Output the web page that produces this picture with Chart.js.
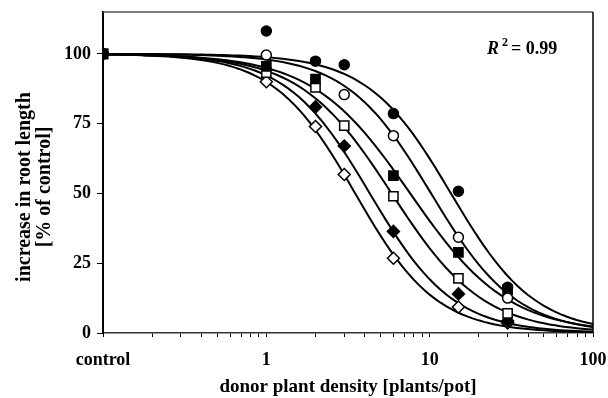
<!DOCTYPE html>
<html>
<head>
<meta charset="utf-8">
<script src="https://cdn.jsdelivr.net/npm/chart.js@4.4.1/dist/chart.umd.min.js"></script>
<style>
  body { margin: 0; background: #fff; }
  canvas { display: block; }
</style>
</head>
<body>
<canvas id="rootChart" width="608" height="398"></canvas>
<script>
// donor plant densities (plants/pot); 0.1 stands in for the control
var densities = [0.1, 1, 2, 3, 6, 15, 30];

// measured root length increase, % of control, one array per series
// (null where a point sits hidden under another marker)
var filledCircle = [100, 108.2, 97.4, 96.1, 78.6, 50.8, 16.4];
var openCircle = [100, 99.6, null, 85.4, 70.7, 34.3, 12.5];
var filledSquare = [100, 95.5, 91.0, null, 56.4, 28.9, 15.5];
var openSquare = [100, 93.3, 88.0, 74.3, 49.0, 19.6, 7.0];
var filledDiamond = [100, null, 81.0, 67.0, 36.4, 14.0, 4.3];
var openDiamond = [100, 90.0, 74.0, 56.8, 26.8, 9.3, 3.6];

// log-logistic fit for each series: y = 100 / (1 + (x / ec50)^slope)
var ec50 = [13.5, 10.2, 7.6, 5.85, 4.3, 3.5];
var slope = [1.7, 1.67, 1.45, 1.55, 1.7, 1.75];

var yTicks = [0, 25, 50, 75, 100];
var xTicks = [0.1, 0.2, 0.3, 0.4, 0.5, 0.6, 0.7, 0.8, 0.9,
              1, 2, 3, 4, 5, 6, 7, 8, 9,
              10, 20, 30, 40, 50, 60, 70, 80, 90, 100];
var xLabels = { 0.1: 'control', 1: '1', 10: '10', 100: '100' };
var yTitle = ['increase in root length', '[% of control]'];

var series = [
    { values: filledCircle, shape: 'circle', fill: '#000', r: 5 },
    { values: openCircle, shape: 'circle', fill: '#fff', r: 5 },
    { values: filledSquare, shape: 'rect', fill: '#000', r: 6.5 },
    { values: openSquare, shape: 'rect', fill: '#fff', r: 6.5 },
    { values: filledDiamond, shape: 'rectRot', fill: '#000', r: 6 },
    { values: openDiamond, shape: 'rectRot', fill: '#fff', r: 6 }
];

function fitCurve(i) {
    var pts = [];
    for (var k = 0; k <= 90; k++) {
        var x = Math.pow(10, -1 + k * 3 / 90);
        pts.push({ x: x, y: 100 / (1 + Math.pow(x / ec50[i], slope[i])) });
    }
    return pts;
}

var datasets = [];
series.forEach(function(s, i) {
    datasets.push({
        type: 'line',
        data: fitCurve(i),
        borderColor: '#000',
        borderWidth: 2,
        pointRadius: 0,
        fill: false,
        order: 2
    });
});
series.forEach(function(s) {
    datasets.push({
        type: 'scatter',
        data: s.values.map(function(v, j) { return { x: densities[j], y: v }; }),
        pointStyle: s.shape,
        pointRadius: s.r,
        pointBackgroundColor: s.fill,
        pointBorderColor: '#000',
        pointBorderWidth: 1.5,
        order: 1
    });
});

var serif = 'Liberation Serif';

// frame on top/right, y title and the R² note
var extras = {
    id: 'extras',
    afterDraw: function(chart) {
        var a = chart.chartArea;
        var ctx = chart.ctx;
        ctx.save();
        ctx.lineWidth = 1.5;
        ctx.strokeStyle = '#555';
        ctx.beginPath();
        ctx.moveTo(a.left, a.top);
        ctx.lineTo(a.right, a.top);
        ctx.stroke();
        ctx.strokeStyle = '#000';
        ctx.beginPath();
        ctx.moveTo(a.right, a.top);
        ctx.lineTo(a.right, a.bottom);
        ctx.stroke();

        ctx.fillStyle = '#000';
        ctx.textBaseline = 'alphabetic';
        ctx.font = 'italic bold 18px "' + serif + '"';
        ctx.fillText('R', 487, 54);
        ctx.font = 'bold 12px "' + serif + '"';
        ctx.fillText('2', 502, 46);
        ctx.font = 'bold 18px "' + serif + '"';
        ctx.fillText('= 0.99', 511, 54);

        // y axis title, two lines rotated
        ctx.translate(35, 187);
        ctx.rotate(-Math.PI / 2);
        ctx.textAlign = 'center';
        ctx.textBaseline = 'middle';
        ctx.font = 'bold 20px "' + serif + '"';
        ctx.fillText(yTitle[0], 0, -10);
        ctx.fillText(yTitle[1], 0, 10);
        ctx.restore();
    }
};

new Chart(document.getElementById('rootChart'), {
    data: { datasets: datasets },
    plugins: [extras],
    options: {
        responsive: false,
        animation: false,
        layout: { padding: { left: 65, right: 15, top: 12, bottom: 0 } },
        plugins: { legend: { display: false }, tooltip: { enabled: false } },
        scales: {
            x: {
                type: 'logarithmic',
                min: 0.1,
                max: 100,
                afterBuildTicks: function(scale) {
                    scale.ticks = xTicks.map(function(v) { return { value: v }; });
                },
                afterFit: function(scale) {
                    scale.height = 65;
                    scale.paddingLeft = 0;
                    scale.paddingRight = 0;
                },
                grid: { drawOnChartArea: false, color: '#000', tickLength: 4 },
                border: { color: '#333', width: 1.5 },
                ticks: {
                    autoSkip: false,
                    maxRotation: 0,
                    padding: 13,
                    color: '#000',
                    font: { family: serif, size: 18, weight: 'bold' },
                    callback: function(v) { return xLabels[v] || ''; }
                },
                title: {
                    display: true,
                    text: 'donor plant density [plants/pot]',
                    color: '#000',
                    font: { family: serif, size: 19, weight: 'bold' },
                    padding: { top: 5, bottom: 0 }
                }
            },
            y: {
                min: 0,
                max: 115,
                afterBuildTicks: function(scale) {
                    scale.ticks = yTicks.map(function(v) { return { value: v }; });
                },
                afterFit: function(scale) {
                    scale.width = 38;
                    scale.paddingTop = 0;
                    scale.paddingBottom = 0;
                },
                grid: { drawOnChartArea: false, color: '#000', tickLength: 6 },
                border: { color: '#000', width: 2 },
                ticks: {
                    padding: 6,
                    color: '#000',
                    font: { family: serif, size: 18, weight: 'bold' }
                }
            }
        }
    }
});
</script>
</body>
</html>
